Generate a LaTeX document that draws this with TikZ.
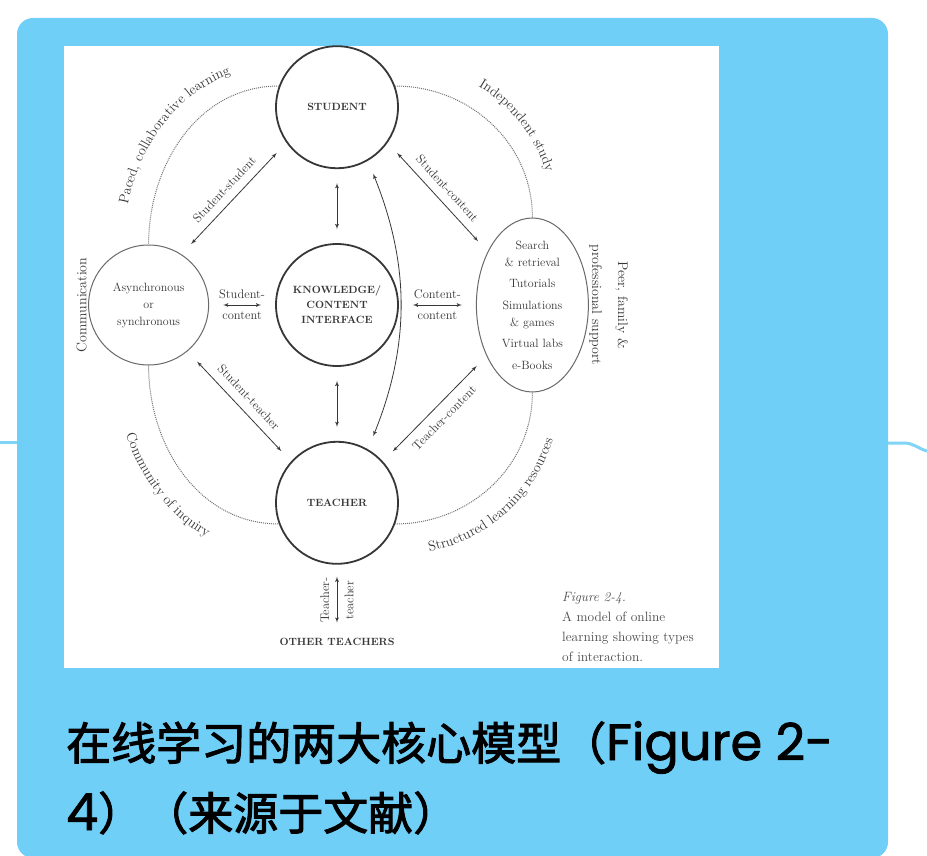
\documentclass[tikz,border=0pt]{standalone}
\usepackage{fontspec}
\usepackage{tikz}
\usetikzlibrary{shapes, arrows, positioning, decorations.text}
\newfontfamily\cjk{Noto Sans CJK SC}[FakeBold=2.2]
\newfontfamily\latn{Poppins}[FakeBold=1.6]
\definecolor{panelblue}{RGB}{112,207,247}
\definecolor{wireblue}{RGB}{128,212,246}
\definecolor{ink}{RGB}{55,55,55}
\tikzstyle{hub} = [circle, draw=ink, line width=1.8pt, minimum size=122pt, inner sep=0pt, align=center, text=ink, font=\fontsize{10.5}{15}\selectfont\bfseries]
\tikzstyle{mode} = [circle, draw=ink!75, line width=1pt, minimum size=120pt, inner sep=0pt, align=center, text=ink, font=\fontsize{12}{17}\selectfont]
\tikzstyle{tools} = [ellipse, draw=ink!75, line width=1pt, minimum width=112pt, minimum height=174pt, inner sep=0pt]
\tikzstyle{arrow} = [draw=ink, latex'-latex', line width=0.8pt, shorten <=14pt, shorten >=14pt]
\tikzstyle{route} = [draw=ink!70, densely dotted, line width=1pt]
\tikzstyle{tag} = [text=ink, font=\fontsize{12.5}{14}\selectfont]
\tikzstyle{ring} = [text=ink, font=\fontsize{14}{26}\selectfont]

\begin{document}
\begin{tikzpicture}[x=1pt, y=1pt]
    \useasboundingbox (0,0) rectangle (927,-856);
    % card and panel
    \fill[panelblue, rounded corners=16pt] (17,-18) rectangle (888,-858);
    \fill[white] (64,-46) rectangle (719,-668);
    \coordinate (lin) at (0,-442);
    \coordinate (lout) at (17,-442);
    \coordinate (rin) at (888,-443);
    \coordinate (rout) at (927,-451);
    \draw[wireblue, line width=3pt] (lin) -- (lout);
    \draw[wireblue, line width=3pt] (rin) -- ++(16,0) to[out=0, in=165] (rout);

    % circles
    \node (kno) [hub] at (337,-305) {KNOWLEDGE/\\CONTENT\\INTERFACE};
    \node (stu) [hub, above=74pt of kno] {STUDENT};
    \node (tea) [hub, below=74pt of kno] {TEACHER};
    \node (asy) [mode, left=66pt of kno] {Asynchronous\\or\\synchronous};
    \node (ell) [tools, right=77pt of kno,
        label={[tag, align=center, font=\fontsize{12}{17}\selectfont]center:Search\\\& retrieval\\[4.5pt]Tutorials\\[4.5pt]Simulations\\\& games\\[4.5pt]Virtual labs\\[4.5pt]e-Books}] {};
    \node (oth) [below=71pt of tea, inner sep=2pt, text=ink, font=\fontsize{10.5}{12}\selectfont\bfseries] {OTHER TEACHERS};

    % dotted rim
    \draw[route] (stu.160) to[out=180, in=90] (asy.north);
    \draw[route] (stu.20) to[out=0, in=90] (ell.north);
    \draw[route] (asy.south) to[out=270, in=180] (tea.200);
    \draw[route] (tea.340) to[out=0, in=270] (ell.south);

    % interactions
    \draw[arrow] (stu.215) -- node[tag, sloped, above=5pt] {Student-student} (asy.57);
    \draw[arrow] (stu.325) -- node[tag, sloped, above=5pt] {Student-content} (ell.130);
    \draw[arrow] (asy.310) -- node[tag, sloped, above=5pt] {Student-teacher} (tea.138);
    \draw[arrow] (tea.42) -- node[tag, sloped, below=5pt] {Teacher-content} (ell.228);
    \draw[arrow] (stu) -- (kno);
    \draw[arrow] (kno) -- (tea);
    \draw[arrow] (stu.-60) to[bend left=22] (tea.60);
    \draw[arrow] (asy) -- node[tag, above=3pt] {Student-} node[tag, below=3pt] {content} (kno);
    \draw[arrow] (kno) -- node[tag, above=3pt] {Content-} node[tag, below=3pt] {content} (ell);
    \draw[arrow, shorten <=13pt, shorten >=12pt] (oth) -- node[tag, sloped, above=4pt] {Teacher-} node[tag, sloped, below=4pt] {teacher} (tea);

    % rim labels
    \path[decorate, decoration={text along path, text align=center,
        text={|\fontsize{14}{16}\selectfont\color{ink}|Paced, collaborative learning}}]
        (stu.west |- asy.north) ++(180:151pt and 178pt) arc[start angle=180, end angle=92, x radius=151pt, y radius=178pt];
    \path[decorate, decoration={text along path, text align=center,
        text={|\fontsize{14}{16}\selectfont\color{ink}|Independent study}}]
        (stu.east |- ell.north) ++(72:154pt and 153pt) arc[start angle=72, end angle=4, x radius=154pt, y radius=153pt];
    \path[decorate, decoration={text along path, text align=center,
        text={|\fontsize{14}{16}\selectfont\color{ink}|Community of inquiry}}]
        (tea.west |- asy.south) ++(188:160pt and 190pt) arc[start angle=188, end angle=260, x radius=160pt, y radius=190pt];
    \path[decorate, decoration={text along path, text align=center,
        text={|\fontsize{14}{16}\selectfont\color{ink}|Structured learning resources}}]
        (tea.east |- ell.south) ++(272:161pt and 162pt) arc[start angle=272, end angle=352, x radius=161pt, y radius=162pt];
    \node (com) [ring, rotate=90, anchor=south] at ([xshift=2pt]asy.west) {Communication};
    \node (peer) [ring, rotate=-90, anchor=south, align=center] at ([xshift=-3pt]ell.east) {Peer, family \&\\professional support};

    % caption
    \node (cap) [anchor=north west, align=left, inner sep=0pt, text=ink!90, font=\fontsize{13.5}{20}\selectfont] at (562,-592) {\textit{Figure 2-4.}\\A model of online\\learning showing types\\of interaction.};

    % title
    \node (ttl) [anchor=base west, inner sep=0pt, font=\cjk\fontsize{45}{50}\selectfont] at (66,-760) {在线学习的两大核心模型（{\latn\fontsize{51}{50}\selectfont Figure 2-}};
    \node (ttl2) [anchor=base west, inner sep=0pt, font=\cjk\fontsize{45}{50}\selectfont] at (66,-830) {{\latn\fontsize{51}{50}\selectfont 4}）（来源于文献）};
\end{tikzpicture}
\end{document}
